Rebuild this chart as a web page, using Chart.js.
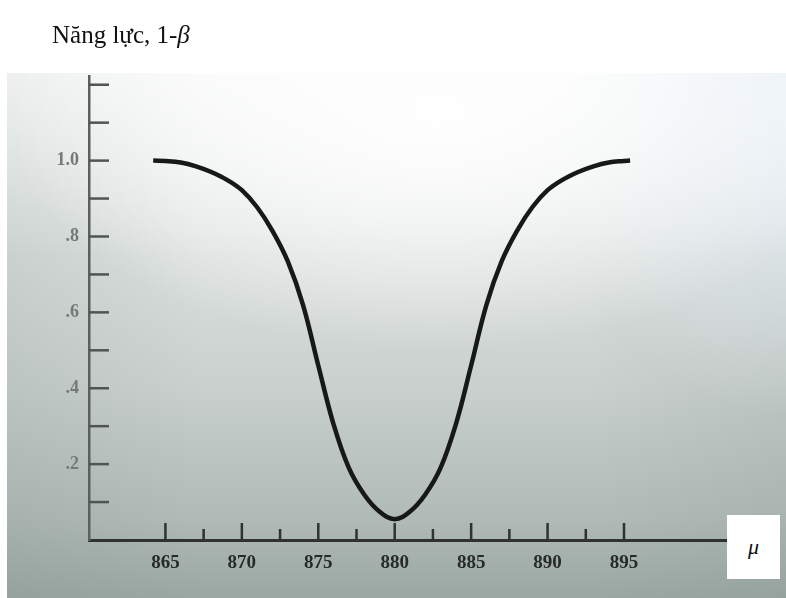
<!DOCTYPE html>
<html>
<head>
<meta charset="utf-8">
<script src="https://cdn.jsdelivr.net/npm/chart.js@4/dist/chart.umd.min.js"></script>
<style>
html,body{margin:0;padding:0;width:786px;height:598px;overflow:hidden;background:#ffffff;}
#photo{position:absolute;left:7px;top:73px;width:779px;height:525px;
  background:
    radial-gradient(ellipse 55% 45% at 55% 8%, rgba(255,255,255,0.95) 0%, rgba(255,255,255,0.6) 45%, rgba(255,255,255,0) 100%),
    radial-gradient(ellipse 30% 60% at 100% 5%, rgba(235,242,250,0.9) 0%, rgba(235,242,250,0) 100%),
    linear-gradient(to bottom, rgba(255,255,255,0.5) 0%, rgba(255,255,255,0) 35%),
    linear-gradient(to right, rgba(120,135,130,0.16) 0%, rgba(120,135,130,0) 25%, rgba(120,135,130,0) 75%, rgba(120,135,130,0.14) 100%),
    linear-gradient(to bottom, #eef2f0 0%, #dde2e0 30%, #c9d0cd 60%, #b0bab6 85%, #9aa7a2 100%);}
#chartWrap{position:absolute;left:0;top:0;width:786px;height:598px;}
#chartWrap canvas{filter:blur(0.5px);}
#title{position:absolute;left:52px;top:22px;font:25px 'Liberation Serif','Times New Roman',serif;line-height:25px;color:#111;white-space:nowrap;}
#title i{font-style:italic;}
#mu{position:absolute;left:727px;top:515px;width:53px;height:64px;background:#ffffff;
  font:italic 22px 'Liberation Serif','DejaVu Serif',serif;color:#111;display:flex;align-items:center;justify-content:center;}
</style>
</head>
<body>
<div id="photo"></div>
<div id="chartWrap"><canvas id="c" width="786" height="598"></canvas></div>
<div id="title">Năng lực, 1-<i>β</i></div>
<div id="mu">μ</div>
<script>
// Curve: mean μ and power 1-β
const muValues    = [864.2, 865, 866, 867, 868, 869, 870, 871, 872, 873, 874, 875, 876, 877, 878, 879, 880,
                     881, 882, 883, 884, 885, 886, 887, 888, 889, 890, 891, 892, 893, 894, 895, 895.4];
const powerValues = [1.000, 0.999, 0.995, 0.985, 0.970, 0.950, 0.922, 0.877, 0.815, 0.735, 0.620, 0.460, 0.305, 0.190, 0.120, 0.075, 0.055,
                     0.075, 0.120, 0.190, 0.305, 0.460, 0.620, 0.735, 0.815, 0.877, 0.922, 0.950, 0.970, 0.985, 0.995, 0.999, 1.000];

// Axis ticks
const xTickValues = [865, 867.5, 870, 872.5, 875, 877.5, 880, 882.5, 885, 887.5, 890, 892.5, 895];
const xLabelValues = [865, 870, 875, 880, 885, 890, 895];
const xTickLabels  = ['865', '870', '875', '880', '885', '890', '895'];
const yTickValues = [0.1, 0.2, 0.3, 0.4, 0.5, 0.6, 0.7, 0.8, 0.9, 1.0, 1.1, 1.2];
const yLabelValues = [0.2, 0.4, 0.6, 0.8, 1.0];
const yTickLabels  = ['.2', '.4', '.6', '.8', '1.0'];

function labelFor(values, labels, v) {
  const i = values.findIndex(a => Math.abs(a - v) < 1e-6);
  return i >= 0 ? labels[i] : '';
}

const inwardTicks = {
  id: 'inwardTicks',
  afterDraw(chart) {
    const {ctx, chartArea, scales: {x, y}} = chart;
    ctx.save();
    ctx.lineCap = 'butt';
    ctx.strokeStyle = '#2e3331';
    ctx.lineWidth = 2.5;
    x.ticks.forEach(t => {
      const px = x.getPixelForValue(t.value);
      const major = xLabelValues.some(v => Math.abs(v - t.value) < 1e-6);
      ctx.beginPath();
      ctx.moveTo(px, chartArea.bottom);
      ctx.lineTo(px, chartArea.bottom - (major ? 17 : 11));
      ctx.stroke();
    });
    ctx.strokeStyle = '#4f5553';
    y.ticks.forEach(t => {
      const py = y.getPixelForValue(t.value);
      ctx.beginPath();
      ctx.moveTo(chartArea.left, py);
      ctx.lineTo(chartArea.left + 20, py);
      ctx.stroke();
    });
    ctx.restore();
  }
};

new Chart(document.getElementById('c'), {
  type: 'line',
  data: {
    datasets: [{
      data: muValues.map((m, i) => ({x: m, y: powerValues[i]})),
      borderColor: '#161918',
      borderWidth: 4.5,
      pointRadius: 0,
      fill: false,
      tension: 0.4
    }]
  },
  options: {
    responsive: false,
    animation: false,
    events: [],
    layout: {padding: {top: 76, right: 55, left: 0, bottom: 0}},
    plugins: {legend: {display: false}, tooltip: {enabled: false}, title: {display: false}},
    scales: {
      x: {
        type: 'linear',
        min: 860,
        max: 902,
        afterBuildTicks: s => { s.ticks = xTickValues.map(v => ({value: v})); },
        afterFit: s => { s.height = 58; },
        grid: {display: false, drawTicks: false},
        border: {display: true, color: '#2e3331', width: 3},
        ticks: {
          autoSkip: false,
          maxRotation: 0,
          padding: 12,
          color: '#262a29',
          font: {family: "'Liberation Serif', serif", size: 19, weight: 'bold'},
          callback: v => labelFor(xLabelValues, xTickLabels, v)
        }
      },
      y: {
        type: 'linear',
        min: 0,
        max: 1.223,
        afterBuildTicks: s => { s.ticks = yTickValues.map(v => ({value: v})); },
        afterFit: s => { s.width = 89; },
        grid: {display: false, drawTicks: false},
        border: {display: true, color: '#5b605e', width: 2.5},
        ticks: {
          autoSkip: false,
          padding: 10,
          color: '#737977',
          font: {family: "'Liberation Serif', serif", size: 18, weight: 'bold'},
          callback: v => labelFor(yLabelValues, yTickLabels, v)
        }
      }
    }
  },
  plugins: [inwardTicks]
});
</script>
</body>
</html>
